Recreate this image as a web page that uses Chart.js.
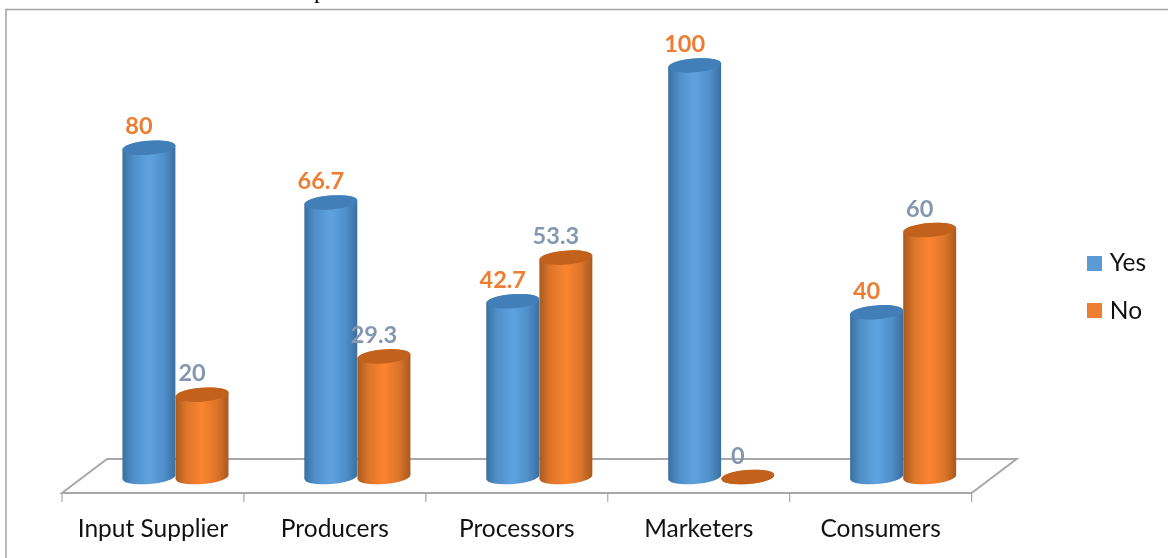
<!DOCTYPE html>
<html>
<head>
<meta charset="utf-8">
<title>Yes / No</title>
<script src="https://cdn.jsdelivr.net/npm/chart.js@4"></script>
<style>
body { margin: 0; background: #fff; }
canvas { display: block; }
</style>
</head>
<body>
<canvas id="myChart" width="1168" height="558"></canvas>
<script>
var categories = ["Input Supplier", "Producers", "Processors", "Marketers", "Consumers"];
var yesValues = [80, 66.7, 42.7, 100, 40];
var noValues = [20, 29.3, 53.3, 0, 60];
var seriesNames = ["Yes", "No"];

// fake 3d: how far the floor runs back, in px
var depthX = 45;
var floorFront = 493;
var floorBack = 459;
var radiusY = 7;
var tilt = -0.08;

var looks = [
    { edge: "#3b6f9e", soft: "#4f8fca", mid: "#5ea3e0", cap: "#427fb8", label: "#ed7d31" },
    { edge: "#a9591e", soft: "#dc7529", mid: "#fb8431", cap: "#c2611c", label: "#8497b0" }
];

// legend square as an image, chart.js puts the text too far off with a normal box
function swatch(color) {
    var c = document.createElement("canvas");
    c.width = 15;
    c.height = 15;
    var g = c.getContext("2d");
    g.fillStyle = color;
    g.fillRect(0, 0, 15, 15);
    return c;
}

function drawCylinder(ctx, bar, look) {
    var rx = bar.width / 2;
    var cx = bar.x + depthX / 2;
    var left = cx - rx;
    var grad = ctx.createLinearGradient(left, 0, left + bar.width, 0);
    grad.addColorStop(0, look.edge);
    grad.addColorStop(0.2, look.soft);
    grad.addColorStop(0.5, look.mid);
    grad.addColorStop(0.78, look.soft);
    grad.addColorStop(1, look.edge);

    ctx.beginPath();
    ctx.ellipse(cx, bar.base, rx, radiusY, tilt, 0, Math.PI);
    ctx.ellipse(cx, bar.y, rx, radiusY, tilt, Math.PI, Math.PI * 2);
    ctx.closePath();
    ctx.fillStyle = grad;
    ctx.fill();

    ctx.beginPath();
    ctx.ellipse(cx, bar.y, rx, radiusY, tilt, 0, Math.PI * 2);
    ctx.fillStyle = look.cap;
    ctx.fill();
}

var cylinderPlugin = {
    id: "cylinders",
    beforeDraw: function (chart) {
        var ctx = chart.ctx;
        var x = chart.scales.x;
        var step = (x.right - x.left) / categories.length;

        // outer frame
        ctx.save();
        ctx.strokeStyle = "#a3a3a3";
        ctx.lineWidth = 1.5;
        ctx.beginPath();
        ctx.moveTo(6, 558);
        ctx.lineTo(6, 9.5);
        ctx.lineTo(1168, 9.5);
        ctx.stroke();

        // cut off text from the page above the chart
        ctx.fillStyle = "#000";
        ctx.font = "24px 'Liberation Serif'";
        ctx.textAlign = "center";
        ctx.textBaseline = "alphabetic";
        ctx.fillText("p", 320, -2);

        // floor
        ctx.strokeStyle = "#a8a8a8";
        ctx.lineWidth = 2;
        ctx.beginPath();
        ctx.moveTo(x.left, floorFront);
        ctx.lineTo(x.left + depthX, floorBack);
        ctx.lineTo(x.right + depthX, floorBack);
        ctx.lineTo(x.right, floorFront);
        ctx.closePath();
        ctx.stroke();

        // tick marks under the floor
        ctx.lineWidth = 1.2;
        for (var i = 0; i <= categories.length; i++) {
            var tx = x.left + step * i;
            ctx.beginPath();
            ctx.moveTo(tx, floorFront);
            ctx.lineTo(tx, floorFront + 9);
            ctx.stroke();
        }
        ctx.restore();
    },
    beforeDatasetDraw: function (chart, args) {
        var ctx = chart.ctx;
        ctx.save();
        args.meta.data.forEach(function (bar) {
            drawCylinder(ctx, bar, looks[args.index]);
        });
        ctx.restore();
        return false;
    },
    afterDatasetsDraw: function (chart) {
        var ctx = chart.ctx;
        ctx.save();
        ctx.font = "bold 23.5px Lato";
        ctx.textAlign = "center";
        ctx.textBaseline = "middle";
        chart.data.datasets.forEach(function (ds, d) {
            ctx.fillStyle = looks[d].label;
            chart.getDatasetMeta(d).data.forEach(function (bar, i) {
                ctx.fillText(String(ds.data[i]), bar.x + depthX / 2 - 10, bar.y - 21);
            });
        });
        ctx.restore();
    }
};

var ctx2 = document.getElementById("myChart").getContext("2d");

var myChart = new Chart(ctx2, {
    type: "bar",
    data: {
        labels: categories,
        datasets: [
            { label: seriesNames[0], data: yesValues, backgroundColor: "#5b9bd5", pointStyle: swatch("#5b9bd5"), borderWidth: 0 },
            { label: seriesNames[1], data: noValues, backgroundColor: "#ed7d31", pointStyle: swatch("#ed7d31"), borderWidth: 0 }
        ]
    },
    options: {
        responsive: false,
        animation: false,
        categoryPercentage: 0.584,
        barPercentage: 1,
        layout: { padding: { left: 62, top: 16, right: 12, bottom: 0 } },
        scales: {
            x: {
                grid: { display: false },
                border: { display: false },
                ticks: {
                    color: "#111",
                    font: { family: "Lato", size: 24.5 },
                    padding: 29,
                    maxRotation: 0,
                    autoSkip: false
                },
                afterFit: function (scale) { scale.height = 81; }
            },
            y: {
                // no visible axis, it only holds the gap up to the legend
                position: "right",
                min: 0,
                max: 112,
                grid: { display: false },
                border: { display: false },
                ticks: { display: false },
                afterFit: function (scale) { scale.width = 96; }
            }
        },
        plugins: {
            tooltip: { enabled: false },
            legend: {
                position: "right",
                labels: {
                    color: "#111",
                    font: { family: "Lato", size: 24.5 },
                    usePointStyle: true,
                    pointStyleWidth: 7,
                    boxHeight: 15,
                    padding: 23
                }
            }
        }
    },
    plugins: [cylinderPlugin]
});
</script>
</body>
</html>
